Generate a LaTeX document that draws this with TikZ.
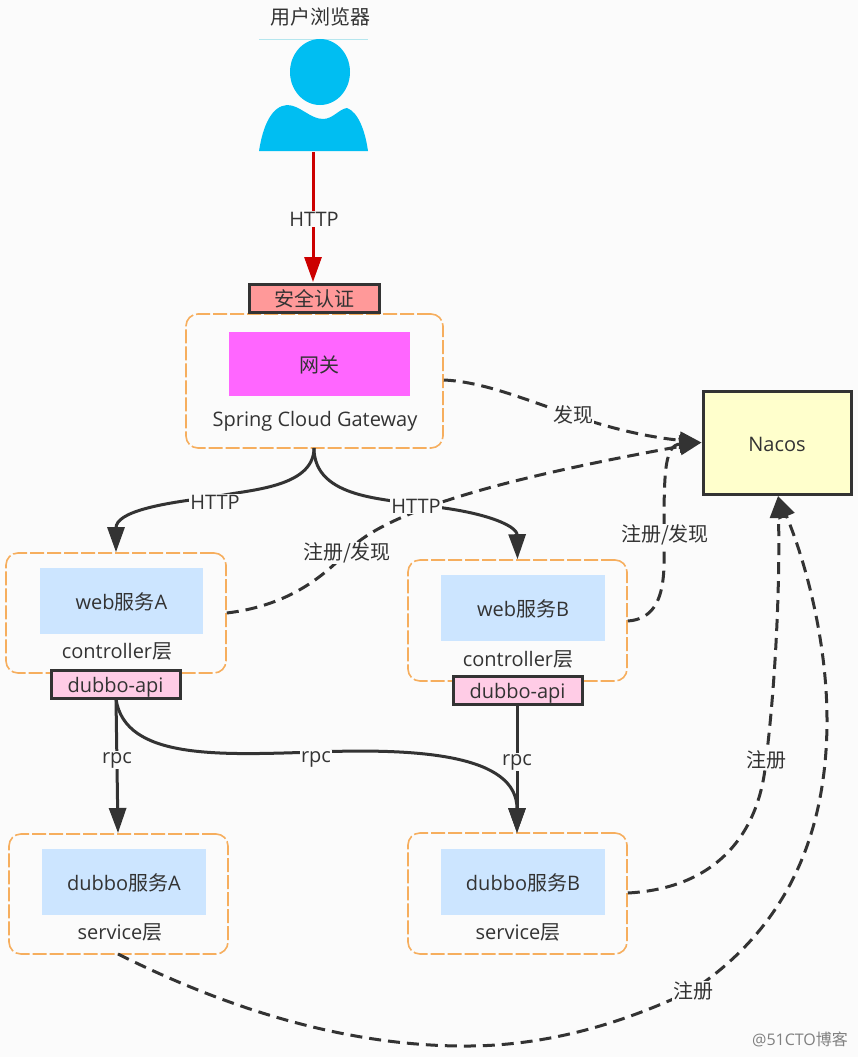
\documentclass[tikz,border=0pt]{standalone}
\usepackage{fontspec}
\setmainfont{Open Sans}
\newfontfamily\cjk{Noto Sans CJK SC}
\usetikzlibrary{arrows.meta,calc}
\definecolor{bgc}{HTML}{FBFBFB}
\definecolor{ink}{HTML}{333333}
\definecolor{orangeb}{HTML}{F6AE5E}
\definecolor{inner}{HTML}{CCE5FF}
\definecolor{personc}{HTML}{00BEF2}
\definecolor{redc}{HTML}{CC0000}
\definecolor{gatec}{HTML}{FF66FF}
\definecolor{nacosc}{HTML}{FFFFCC}
\definecolor{authc}{HTML}{FF9999}
\definecolor{apic}{HTML}{FFCCE6}
\definecolor{topline}{HTML}{B5E6EE}
\tikzset{
  x=1pt,y=-1pt,
  txt/.style={text=ink,font=\fontsize{20}{22}\selectfont,inner sep=0pt},
  lab/.style={text=ink,font=\fontsize{20}{22}\selectfont,inner sep=1pt,fill=bgc},
  group/.style={draw=orangeb,line width=1.6pt,dash pattern=on 14pt off 3pt,rounded corners=12pt,fill=bgc,inner sep=0pt},
  innerbox/.style={fill=inner,inner sep=0pt,text=ink,font=\fontsize{20}{22}\selectfont,text height=20pt,text depth=3pt},
  badge/.style={draw=ink,line width=3pt,inner sep=0pt,text=ink,font=\fontsize{20}{22}\selectfont,text height=20pt,text depth=3pt},
  solidarrow/.style={draw=ink,line width=3pt,-{Triangle[length=25pt,width=17pt]}},
  dasharrow/.style={draw=ink,line width=3pt,dash pattern=on 12pt off 7pt,-{Triangle[length=22pt,width=17pt]}},
}
\newcommand{\boxat}[7]{\node[#1,minimum width=#4-#3,minimum height=#6-#5,align=center] (#2) at ({(#3+#4)/2},{(#5+#6)/2}) {#7};}
\begin{document}
\begin{tikzpicture}
\useasboundingbox (0,0) rectangle (858,1057);
\fill[bgc] (0,0) rectangle (858,1057);

% person
\node[txt] (browser) at (320,17) {\cjk 用户浏览器};
\draw[topline,line width=0.7pt] (259,39) -- (368,39);
\fill[personc] (320,72) ellipse [x radius=30,y radius=33];
\fill[personc] (259,151) .. controls (263,125) and (272,106) .. (287,105)
  .. controls (300,105) and (310,119) .. (323,119)
  .. controls (333,119) and (339,109) .. (347,108)
  .. controls (358,112) and (365,130) .. (368,151) -- cycle;
\coordinate (personfoot) at (313,152);

% groups
\boxat{group}{gw}{186}{443}{314}{448}{}
\boxat{group}{weba}{6}{226}{553}{673}{}
\boxat{group}{webb}{408}{627}{560}{681}{}
\boxat{group}{duba}{9}{228}{834}{954}{}
\boxat{group}{dubb}{408}{627}{833}{954}{}

% inner boxes
\boxat{innerbox,fill=gatec}{gwin}{229}{410}{332}{396}{\cjk 网关}
\boxat{innerbox}{webain}{40}{203}{568}{634}{web\cjk 服务\normalfont A}
\boxat{innerbox}{webbin}{441}{605}{575}{641}{web\cjk 服务\normalfont B}
\boxat{innerbox}{dubain}{42}{206}{849}{915}{dubbo\cjk 服务\normalfont A}
\boxat{innerbox}{dubbin}{441}{605}{849}{915}{dubbo\cjk 服务\normalfont B}

% group captions
\node[txt] (gwcap) at (315,421) {Spring Cloud Gateway};
\node[txt] (webacap) at (117,651) {controller\cjk 层};
\node[txt] (webbcap) at (518,659) {controller\cjk 层};
\node[txt] (dubacap) at (120,932) {service\cjk 层};
\node[txt] (dubbcap) at (518,932) {service\cjk 层};

% nacos
\boxat{badge,fill=nacosc}{nacos}{703}{851}{391}{494}{Nacos}

% solid connectors
\draw[solidarrow,draw=redc,fill=redc] (personfoot) -- (313,282) coordinate (authtop);
\draw[solidarrow] (314,448) .. controls (314,490) and (240,490) .. (215,497)
  .. controls (160,503) and (116,512) .. (weba.north);
\draw[solidarrow] (314,448) .. controls (314,500) and (390,498) .. (416,505)
  .. controls (480,510) and (517,525) .. (webb.north);

% dashed connectors
\draw[dasharrow] (gw.east |- 0,380) .. controls (510,383) and (580,430) .. (nacos.west);
\draw[dasharrow] (weba.east |- 0,613) .. controls (285,606) and (320,580) .. (347,552)
  .. controls (390,505) and (540,472) .. (nacos.west);
\draw[dasharrow] (webb.east |- 0,621) .. controls (672,618) and (663,560) .. (664,530)
  .. controls (664,470) and (665,445) .. (nacos.west);
\draw[dasharrow] (dubb.east |- 0,893) .. controls (720,888) and (760,830) .. (766,760)
  .. controls (776,680) and (780,580) .. (778,496);
\draw[dasharrow] (118,954) .. controls (230,1010) and (350,1047) .. (470,1046)
  .. controls (570,1045) and (650,1010) .. (693,990)
  .. controls (790,925) and (827,830) .. (827,720)
  .. controls (827,640) and (805,560) .. (778,496);

% rpc connectors
\draw[solidarrow] (116,699) -- (118,833);
\draw[solidarrow] (116,699) .. controls (125,760) and (220,755) .. (316,752)
  .. controls (420,748) and (517,755) .. (517,833);
\draw[solidarrow] (517,705) -- (517,833);

% badges
\boxat{badge,fill=authc}{auth}{249}{379}{284}{312}{\cjk 安全认证}
\boxat{badge,fill=apic}{apia}{51}{180}{670}{698}{dubbo-api}
\boxat{badge,fill=apic}{apib}{453}{582}{676}{704}{dubbo-api}

% connector labels
\node[lab] (l1) at (314,219) {HTTP};
\node[lab] (l2) at (215,502) {HTTP};
\node[lab] (l3) at (416,506) {HTTP};
\node[lab] (l4) at (573,415) {\cjk 发现};
\node[lab] (l5) at (347,553) {\cjk 注册/发现};
\node[lab] (l6) at (665,535) {\cjk 注册/发现};
\node[lab] (l7) at (117,760) {rpc};
\node[lab] (l8) at (316,759) {rpc};
\node[lab] (l9) at (517,762) {rpc};
\node[lab] (l10) at (766,760) {\cjk 注册};
\node[lab] (l11) at (693,991) {\cjk 注册};

% watermark
\node[text=gray,font=\fontsize{16}{18}\selectfont,inner sep=0pt] (wm) at (800,1039) {@51CTO\cjk 博客};
\end{tikzpicture}
\end{document}
